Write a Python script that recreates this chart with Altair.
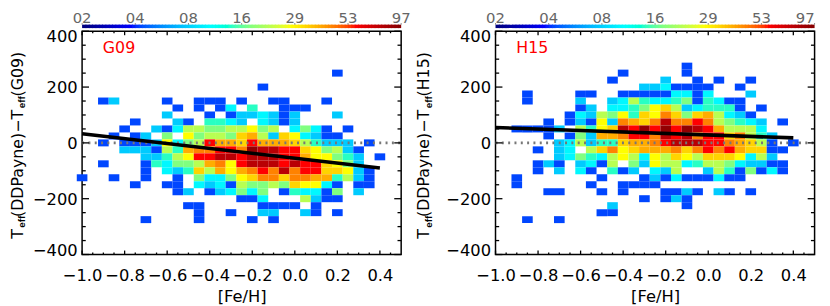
import altair as alt
import pandas as pd

FONT = "DejaVu Sans"
PW, PH = 323, 226

# rows: y centre -> (first column index, counts per 0.05 dex column, column 0 = -1.0)
G09_ROWS = {
    250: (24, [4]),
    200: (17, [4]),
    150: (2, [4,7,0,0,0,0,4,0,0,4,4,4,0,4,0,0,4,4,0,0,0,4]),
    125: (9, [4,0,4,0,4,9,0,12,0,0,4,4,4]),
    100: (8, [7,0,0,0,4,0,4,7,7,9,7,4,7,0,0,0,7]),
    75: (5, [4,0,0,0,7,4,0,12,12,9,7,0,9,7,4,7]),
    50: (4, [4,0,0,7,4,9,19,19,15,15,19,19,25,15,19,0,9,15,9,4,0,4]),
    25: (3, [4,0,4,7,0,15,0,25,15,19,19,15,30,35,19,7,30,25,9,7,4,4]),
    0: (2, [4,0,4,4,4,7,25,9,15,19,54,35,35,30,54,35,35,35,30,19,12,7,7,7,0,4]),
    -25: (4, [7,7,7,4,19,12,35,41,41,54,54,41,89,74,74,54,54,30,25,15,19,7,4]),
    -50: (6, [7,7,12,19,25,54,54,74,74,54,74,74,74,54,54,35,25,25,15,12,7,0,4]),
    -75: (2, [4,0,0,0,4,12,9,15,15,19,35,41,25,54,74,74,74,54,74,54,54,30,25,15,7]),
    -100: (6, [4,0,9,7,12,30,19,35,25,35,41,54,41,74,41,54,54,30,30,25,7,4]),
    -125: (0, [4,0,0,4,0,0,4,0,0,4,0,15,9,9,15,25,30,41,41,30,41,41,35,35,12,19,7,4]),
    -150: (5, [4,0,0,4,4,0,9,7,9,4,19,15,15,19,15,30,25,25,9,4,0,4,4]),
    -175: (9, [4,7,0,4,7,9,15,9,15,0,4,12,9,9,4,15,0,7]),
    -200: (15, [4,4,9,0,0,0,19,7,4,4]),
    -225: (10, [4,4,0,0,0,0,0,4,4,4,4,0,4]),
    -250: (11, [4,0,0,4,0,0,7,7,0,0,7,4,0,4]),
    -275: (6, [4,0,0,0,0,4,0,0,0,0,4,0,4]),
}
H15_ROWS = {
    275: (18, [4]),
    250: (12, [4,0,0,0,0,0,4]),
    225: (11, [4,0,0,0,0,7,0,0,4,0,4,0,0,4]),
    200: (14, [7,7,9,4,4,4,4,0,0,4]),
    175: (3, [4,0,0,0,0,4,4,0,0,4,4,4,4,4,9,9,4,9,0,0,0,7]),
    150: (3, [4,0,0,0,0,7,0,0,7,9,19,12,9,9,12,15,4,12,9,4,4]),
    125: (8, [4,7,0,9,9,12,15,25,30,19,7,9,12,12,12,4,0,4]),
    100: (7, [4,9,7,19,15,25,12,30,25,41,30,15,30,35,19,9,7,4]),
    75: (5, [4,0,4,7,4,25,7,41,35,30,41,74,41,41,54,41,19,15,12,9,7,0,4]),
    50: (2, [4,4,4,4,7,0,19,12,25,30,74,54,89,54,89,54,89,74,54,35,19,19,19,9]),
    25: (5, [4,0,4,15,7,35,35,41,54,54,41,74,54,74,41,54,54,30,41,19,12,7]),
    0: (6, [7,9,19,7,12,12,30,35,35,41,54,74,74,74,54,54,41,35,30,19,4,0,4]),
    -25: (4, [4,0,7,9,0,19,30,41,25,30,35,35,35,41,30,41,54,41,54,35,30,30,4,4]),
    -50: (6, [7,9,15,12,9,19,25,19,9,25,19,30,25,19,30,30,30,25,9,19,7]),
    -75: (4, [4,7,4,0,7,9,4,19,0,15,7,25,19,19,9,12,19,19,15,9,7,7,4,4]),
    -100: (4, [4,0,7,0,9,4,0,12,4,7,0,9,7,19,0,0,7,19,12,4,15,4,9,4]),
    -125: (2, [4,0,0,0,0,0,0,0,4,0,0,0,4,7,4,9,4,4,4,9,4,4]),
    -150: (2, [4,0,0,0,0,0,0,4,0,0,4,4,4,4]),
    -175: (5, [4,4,0,0,0,4,0,4,0,0,0,4,4,7,4,0,7,4,0,4]),
    -200: (14, [4,0,4,7,4]),
    -225: (11, [7,0,0,0,0,0,0,4]),
    -250: (10, [4,4]),
    -275: (3, [4,0,0,4]),
}
G09_FIT = {"x": [-1.0, 0.4], "y": [33, -90]}
H15_FIT = {"x": [-1.0, 0.4], "y": [55, 18]}

X_MAJOR = [-1.0, -0.8, -0.6, -0.4, -0.2, 0.0, 0.2, 0.4]
X_MINOR = [-0.95,-0.9,-0.85,-0.75,-0.7,-0.65,-0.55,-0.5,-0.45,-0.35,-0.3,-0.25,
           -0.15,-0.1,-0.05,0.05,0.1,0.15,0.25,0.3,0.35,0.45]
Y_MAJOR = [-400, -200, 0, 200, 400]
Y_MINOR = [-350,-300,-250,-150,-100,-50,50,100,150,250,300,350]
CBAR_LABELS = ["02", "04", "08", "16", "29", "53", "97"]
CBAR_POS = [0, 1, 2, 3, 4, 5, 6]
CBAR_STEPS = list(range(0, 97))

STOP_COUNTS = [2, 3.6, 9.4, 15, 25, 54, 97]
STOP_COLORS = ["#000080", "#0000ff", "#00ffff", "#80ff80", "#ffff00", "#ff0000", "#800000"]

xs = alt.Scale(domain=[-1.0, 0.5], nice=False, zero=False)
ys = alt.Scale(domain=[-400, 400], nice=False, zero=False)
cs = alt.Scale(type="log", domain=STOP_COUNTS, range=STOP_COLORS)
bs = alt.Scale(domain=[0, 6], nice=False, zero=False)


def cells(rows):
    out = []
    for v, (start, counts) in rows.items():
        for k, c in enumerate(counts):
            if c:
                cx = -1.0 + 0.05 * (start + k)
                out.append({"x0": cx - 0.025, "x1": cx + 0.025, "y0": v - 12.5, "y1": v + 12.5, "n": c})
    return pd.DataFrame(out)


def xticks(vals, length):
    d = pd.DataFrame({"x": vals})
    base = alt.Chart(d).mark_rule(color="black", strokeWidth=1.3)
    x = alt.X("x:Q", scale=xs)
    return (base.encode(x=x, y=alt.value(0), y2=alt.value(length)) +
            base.encode(x=x, y=alt.value(PH), y2=alt.value(PH - length)))


def yticks(vals, length):
    d = pd.DataFrame({"y": vals})
    base = alt.Chart(d).mark_rule(color="black", strokeWidth=1.3)
    y = alt.Y("y:Q", scale=ys)
    return (base.encode(y=y, x=alt.value(0), x2=alt.value(length)) +
            base.encode(y=y, x=alt.value(PW), x2=alt.value(PW - length)))


def piece(text, x, y, size, weight="normal", font=FONT):
    d = pd.DataFrame({"t": [text]})
    return alt.Chart(d).mark_text(angle=270, align="left", baseline="alphabetic", font=font,
                                  fontSize=size, fontWeight=weight, color="black").encode(
        text="t:N", x=alt.value(x), y=alt.value(y))


def panel(rows, fit, name, tx, end_align):
    rect = alt.Chart(cells(rows)).mark_rect().encode(
        x=alt.X("x0:Q", scale=xs, axis=alt.Axis(
            values=X_MAJOR, title="[Fe/H]", format=".1f", ticks=False, domain=False, grid=False,
            labelFont=FONT, labelFontSize=16.5, labelColor="black", labelPadding=13, labelOverlap=False,
            labelFlush=False, titleFont=FONT, titleFontSize=16.5, titleFontWeight="normal",
            titleColor="black", titlePadding=5)),
        x2="x1:Q",
        y=alt.Y("y0:Q", scale=ys, axis=alt.Axis(
            values=Y_MAJOR, title=None, format="d", ticks=False, domain=False, grid=False,
            labelFont=FONT, labelFontSize=16.5, labelColor="black", labelPadding=5, labelOverlap=False,
            labelFlush=True, labelFlushOffset=3, labelOffset=0.5)),
        y2="y1:Q",
        color=alt.Color("n:Q", legend=None, scale=cs),
    )
    zero = alt.Chart(pd.DataFrame({"x": [-1.0, 0.5], "y": [0, 0]})).mark_line(
        color="#777777", strokeWidth=3, strokeDash=[2, 4.4]).encode(
        x=alt.X("x:Q", scale=xs), y=alt.Y("y:Q", scale=ys))
    fitl = alt.Chart(pd.DataFrame(fit)).mark_line(color="black", strokeWidth=3.6).encode(
        x=alt.X("x:Q", scale=xs), y=alt.Y("y:Q", scale=ys))
    label = alt.Chart(pd.DataFrame({"t": [name]})).mark_text(
        font=FONT, fontSize=16, color="#ff0000", align="left", baseline="middle").encode(
        text="t:N", x=alt.value(21), y=alt.value(17))
    title = (piece("T", tx, 210, 16) + piece("eff", tx + 3, 199, 10, "bold", "Liberation Sans") +
             piece("(DDPayne)−T", tx, 188, 16) + piece("eff", tx + 3, 78, 10, "bold", "Liberation Sans") +
             piece("(" + name + ")", tx, 66, 16))
    main = alt.layer(rect, zero, fitl, label, xticks(X_MAJOR, 4), xticks(X_MINOR, 2),
                     yticks(Y_MAJOR, 7), yticks(Y_MINOR, 3.7), title).properties(
        width=PW, height=PH, view=alt.ViewBackground(stroke="black", strokeWidth=1.5))

    cb = pd.DataFrame({"s": CBAR_STEPS})
    cb["lo"] = cb["s"] / 16
    cb["hi"] = (cb["s"] + 1.3) / 16
    cb = cb[cb["lo"] < 6].copy()
    cb["hi"] = cb["hi"].clip(upper=6)
    cb["n"] = 2 * (97 / 2) ** (cb["lo"] / 6)
    grad = alt.Chart(cb).mark_rect().encode(
        x=alt.X("lo:Q", scale=bs, axis=None),
        x2="hi:Q",
        color=alt.Color("n:Q", legend=None, scale=cs),
    )
    lab = pd.DataFrame({"p": CBAR_POS, "t": CBAR_LABELS})
    ctext = alt.Chart(lab[lab["p"] < 6]).mark_text(
        font=FONT, fontSize=15, color="#666666", align="center", baseline="top").encode(
        x=alt.X("p:Q", scale=bs, axis=None), y=alt.value(-13.7), text="t:N")
    etext = alt.Chart(lab[lab["p"] == 6]).mark_text(
        font=FONT, fontSize=15, color="#666666", align=end_align, baseline="top").encode(
        x=alt.X("p:Q", scale=bs, axis=None), y=alt.value(-13.7), text="t:N")
    cticks = alt.Chart(lab).mark_rule(color="#777777", strokeWidth=1).encode(
        x=alt.X("p:Q", scale=bs, axis=None), y=alt.value(-1.5), y2=alt.value(0))
    bar = alt.layer(grad, ctext, etext, cticks).properties(
        width=PW, height=3.5, view=alt.ViewBackground(stroke="transparent"))
    return alt.vconcat(bar, main, spacing=-1.3)


chart = alt.hconcat(panel(G09_ROWS, G09_FIT, "G09", -60.3, "center"),
                    panel(H15_ROWS, H15_FIT, "H15", -67, "right"), spacing=3.5).properties(padding=0)

chart.save("out.html", embed_options={"renderer": "svg", "actions": False})
